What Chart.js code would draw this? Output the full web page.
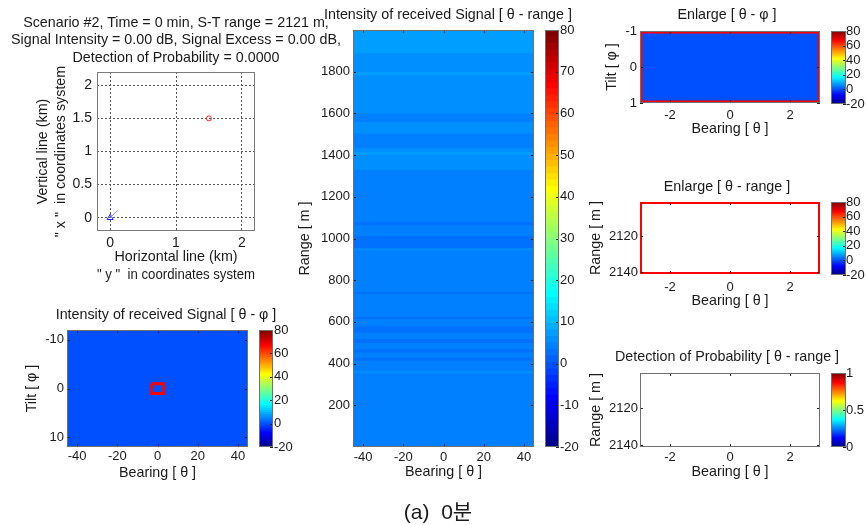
<!DOCTYPE html>
<html>
<head>
<meta charset="utf-8">
<title>Scenario #2 - 0 min</title>
<script src="https://cdn.jsdelivr.net/npm/chart.js@4.4.1/dist/chart.umd.min.js"></script>
<style>
  body { margin: 0; background: #fff; }
  #fig { position: relative; width: 866px; height: 525px; overflow: hidden; background: #fff;
         font-family: "Liberation Sans", Arial, sans-serif; color: #1a1a1a; }
  #fig canvas { position: absolute; left: 0; top: 0; }
  .lbl { position: absolute; font-size: 14.3px; white-space: nowrap; transform: translate(-50%, -50%); text-align: center; }
  #head { line-height: 17.5px; }
  #cap { font-size: 21px; font-family: "Liberation Sans", "Noto Sans CJK KR", sans-serif; }
</style>
</head>
<body>
<div id="fig">
  <canvas id="pos" width="866" height="525"></canvas>
  <canvas id="tp" width="866" height="525"></canvas>
  <canvas id="tpBar" width="866" height="525"></canvas>
  <canvas id="tr" width="866" height="525"></canvas>
  <canvas id="trBar" width="866" height="525"></canvas>
  <canvas id="zTp" width="866" height="525"></canvas>
  <canvas id="zTpBar" width="866" height="525"></canvas>
  <canvas id="zTr" width="866" height="525"></canvas>
  <canvas id="zTrBar" width="866" height="525"></canvas>
  <canvas id="pd" width="866" height="525"></canvas>
  <canvas id="pdBar" width="866" height="525"></canvas>

  <div class="lbl" id="head" style="left:176px;top:39.5px"></div>
  <div class="lbl" style="left:166px;top:314px">Intensity of received Signal [ θ - φ ]</div>
  <div class="lbl" style="left:448px;top:14px">Intensity of received Signal [ θ - range ]</div>
  <div class="lbl" style="left:727px;top:14px">Enlarge [ θ - φ ]</div>
  <div class="lbl" style="left:727px;top:186px">Enlarge [ θ - range ]</div>
  <div class="lbl" style="left:727px;top:356px">Detection of Probability [ θ - range ]</div>
  <div class="lbl" id="cap" style="left:438px;top:510px">(a)&nbsp; 0분</div>
</div>

<script>
'use strict';

// numbers printed in the header
const scenarioNo = 2;
const timeMin = 0;
const stRange = 2121;
const signalIntensity = 0.00;
const signalExcess = 0.00;
const detectProb = 0.0000;

// positions in the coordinate system (km)
const sensorPos = [0, 0];
const sensorHeading = [0.12, 0.12];
const targetPos = [1.5, 1.5];
const kmLim = [-0.2, 2.2];
const kmTicksX = [0, 1, 2];
const kmTicksY = [0, 0.5, 1, 1.5, 2];

// theta - phi plane
const bearingLim = [-45, 45];
const bearingTicks = [-40, -20, 0, 20, 40];
const tiltLim = [-12, 12];
const tiltTicks = [-10, 0, 10];
const tiltEdges = [-12, 12];
const tiltLevels = [0];

// theta - range plane: top of each range band (m) and its level (dB)
const rangeLim = [0, 2000];
const rangeTicks = [200, 400, 600, 800, 1000, 1200, 1400, 1600, 1800];
const rangeTops = [2000, 1890, 1800, 1785, 1600, 1560, 1505, 1435, 1415, 1405,
                   1330, 1080, 1065, 1015, 955, 945, 745, 735, 625, 615,
                   580, 550, 520, 500, 470, 455, 430, 415, 365, 355];
const rangeLevels = [7.5, 5.5, 7.0, 5.5, 4.0, 5.5, 4.0, 5.5, 7.0, 5.5,
                     4.0, 2.5, 4.0, 2.5, 5.5, 4.0, 2.5, 4.0, 2.5, 4.0,
                     2.5, 4.0, 2.5, 4.0, 2.5, 4.0, 2.5, 4.0, 5.5, 4.0];

// enlarged window round the target
const zoomBearing = [-3, 3];
const zoomBearingTicks = [-2, 0, 2];
const zoomTilt = [-1, 1];
const zoomTiltTicks = [-1, 0, 1];
const zoomRange = [2101, 2141];
const zoomRangeTicks = [2120, 2140];

// colour scales
const dbLim = [-20, 80];
const dbTicks20 = [-20, 0, 20, 40, 60, 80];
const dbTicks10 = [-20, -10, 0, 10, 20, 30, 40, 50, 60, 70, 80];
const probLim = [0, 1];
const probTicks = [0, 0.5, 1];

document.getElementById('head').innerHTML =
  `Scenario #${scenarioNo}, Time = ${timeMin} min, S-T range = ${stRange} m,<br>` +
  `Signal Intensity = ${signalIntensity.toFixed(2)} dB, Signal Excess = ${signalExcess.toFixed(2)} dB,<br>` +
  `Detection of Probability = ${detectProb.toFixed(4)}`;

// matlab jet(64)
function jet64(i) {
  const u = k => k <= 16 ? k / 16 : (k <= 31 ? 1 : (48 - k) / 16);
  const comp = off => { const k = i - off; return (k >= 1 && k <= 47) ? u(k) : 0; };
  const r = comp(24), g = comp(8), b = comp(-8);
  return `rgb(${Math.round(r * 255)},${Math.round(g * 255)},${Math.round(b * 255)})`;
}
function jetColor(v, lim) {
  let i = Math.floor((v - lim[0]) / (lim[1] - lim[0]) * 64) + 1;
  return jet64(Math.min(64, Math.max(1, i)));
}

// box round the axes + small inside ticks, matlab style
const framePlugin = {
  id: 'frame',
  defaults: { color: '#707070', ticks: '' },
  afterDatasetsDraw(chart, args, opts) {
    const a = chart.chartArea, ctx = chart.ctx;
    const L = Math.round(a.left), R = Math.round(a.right), T = Math.round(a.top), B = Math.round(a.bottom);
    ctx.save();
    ctx.lineWidth = 1;
    if (opts.ticks) {
      ctx.strokeStyle = '#222';
      ctx.beginPath();
      const xs = chart.scales.x, ys = chart.scales.y;
      if (opts.ticks.includes('x') && xs) xs.ticks.forEach(t => {
        const p = Math.round(xs.getPixelForValue(t.value)) + 0.5;
        ctx.moveTo(p, B); ctx.lineTo(p, B - 3);
        ctx.moveTo(p, T); ctx.lineTo(p, T + 3);
      });
      if (opts.ticks.includes('y') && ys) ys.ticks.forEach(t => {
        const p = Math.round(ys.getPixelForValue(t.value)) + 0.5;
        if (!opts.ticks.includes('r')) { ctx.moveTo(L, p); ctx.lineTo(L + 3, p); }
        ctx.moveTo(R, p); ctx.lineTo(R - 3, p);
      });
      ctx.stroke();
    }
    ctx.strokeStyle = opts.color;
    ctx.strokeRect(L + 0.5, T + 0.5, R - L - 1, B - T - 1);
    ctx.restore();
  }
};

Chart.register(framePlugin);
Chart.defaults.font.family = '"Liberation Sans", Arial, sans-serif';
Chart.defaults.font.size = 13;
Chart.defaults.color = '#1a1a1a';
Chart.defaults.animation = false;
Chart.defaults.responsive = false;
Chart.defaults.devicePixelRatio = 1;
Chart.defaults.plugins.legend.display = false;
Chart.defaults.plugins.tooltip.enabled = false;

const W = 866, H = 525;
const titleFont = { size: 14.3, lineHeight: 1.1 };

function axis(pos, lim, ticks, title, pad, reverse, fit) {
  return {
    type: 'linear', position: pos, min: lim[0], max: lim[1], reverse: !!reverse, offset: false,
    grid: { display: false, drawTicks: false, tickLength: 0 }, border: { display: false },
    ticks: { padding: pad, autoSkip: false, maxRotation: 0, callback: v => v },
    title: { display: !!title, text: title, padding: 0, font: titleFont },
    afterBuildTicks: s => { s.ticks = ticks.map(v => ({ value: v })); },
    afterFit: fit
  };
}

function rectPts(xr, yr) {
  return [
    { x: xr[0], y: yr[0] }, { x: xr[1], y: yr[0] }, { x: xr[1], y: yr[1] },
    { x: xr[0], y: yr[1] }, { x: xr[0], y: yr[0] }
  ];
}

function heatChart(id, g, o) {
  const datasets = o.bands.map(b => ({
    data: [[b.lo, b.hi + o.overlap]],
    backgroundColor: jetColor(b.v, dbLim),
    xAxisID: 'xc', yAxisID: 'y', clip: 0, borderWidth: 0
  }));
  if (o.rect) datasets.unshift({
    type: 'line', data: o.rect, xAxisID: 'x', yAxisID: 'y', clip: 0,
    borderColor: '#ff0000', borderWidth: o.rectWidth, pointRadius: 0, fill: false, tension: 0
  });
  return new Chart(document.getElementById(id), {
    type: 'bar',
    data: { labels: [''], datasets },
    options: {
      layout: { padding: { left: g.yl, top: g.t, right: W - g.r, bottom: H - g.xb } },
      datasets: { bar: { categoryPercentage: 1, barPercentage: 1, grouped: false } },
      plugins: { frame: { color: o.frame || '#707070', ticks: 'xy' } },
      scales: {
        xc: { type: 'category', display: false, offset: true },
        x: axis('bottom', o.xLim, o.xTicks, 'Bearing [ θ ]', g.xPad, false, s => { s.height = g.xb - g.b; }),
        y: axis('left', o.yLim, o.yTicks, o.yTitle, g.yPad, o.reverse, s => { s.width = g.l - g.yl; })
      }
    }
  });
}

function colorbar(id, g, lim, ticks) {
  const step = (lim[1] - lim[0]) / 64;
  const datasets = [];
  for (let i = 0; i < 64; i++) {
    datasets.push({
      data: [[lim[0] + i * step - (i ? step / 2 : 0), lim[0] + (i + 1) * step]],
      backgroundColor: jet64(i + 1), clip: 0, borderWidth: 0
    });
  }
  return new Chart(document.getElementById(id), {
    type: 'bar',
    data: { labels: [''], datasets },
    options: {
      layout: { padding: { left: g.l, top: g.t, right: W - g.tr, bottom: H - g.b } },
      datasets: { bar: { categoryPercentage: 1, barPercentage: 1, grouped: false } },
      plugins: { frame: { color: '#707070', ticks: 'yr' } },
      scales: {
        x: { type: 'category', display: false, offset: true },
        y: axis('right', lim, ticks, '', g.pad, false, s => { s.width = g.tr - g.r; })
      }
    }
  });
}

// ---- positions plot ----
new Chart(document.getElementById('pos'), {
  type: 'scatter',
  data: {
    datasets: [
      { data: [{ x: targetPos[0], y: targetPos[1] }], pointStyle: 'circle', pointRadius: 2.5,
        borderColor: '#ff2020', backgroundColor: 'rgba(0,0,0,0)', borderWidth: 1 },
      { data: [{ x: sensorPos[0], y: sensorPos[1] }, { x: sensorHeading[0], y: sensorHeading[1] }],
        showLine: true, borderColor: '#8c8cff', borderWidth: 1, pointRadius: 0 },
      { data: [{ x: sensorPos[0], y: sensorPos[1] }], pointStyle: 'triangle', pointRadius: 3.5,
        borderColor: '#2020ff', backgroundColor: 'rgba(0,0,0,0)', borderWidth: 1 }
    ]
  },
  options: {
    layout: { padding: { left: 34, top: 72, right: W - 255, bottom: H - 284 } },
    plugins: { frame: { color: '#7a7a7a', ticks: '' } },
    scales: {
      x: {
        type: 'linear', min: kmLim[0], max: kmLim[1],
        grid: { color: '#555', drawTicks: false }, border: { display: false, dash: [2, 2] },
        ticks: { padding: 4, font: { size: 14 }, callback: v => v },
        title: { display: true, text: ['Horizontal line (km)', '" y "  in coordinates system'], padding: 0,
                 font: { size: 14.3, lineHeight: 18 / 14.3 } },
        afterBuildTicks: s => { s.ticks = kmTicksX.map(v => ({ value: v })); },
        afterFit: s => { s.height = 284 - 231; }
      },
      y: {
        type: 'linear', min: kmLim[0], max: kmLim[1],
        grid: { color: '#555', drawTicks: false }, border: { display: false, dash: [2, 2] },
        ticks: { padding: 5, font: { size: 14 }, callback: v => v },
        title: { display: true, text: ['Vertical line (km)', '" x "  in coordinates system'], padding: 0,
                 font: { size: 14.3, lineHeight: 18 / 14.3 } },
        afterBuildTicks: s => { s.ticks = kmTicksY.map(v => ({ value: v })); },
        afterFit: s => { s.width = 97 - 34; }
      }
    }
  }
});

// bands for the heat maps
const tiltBands = tiltLevels.map((v, i) => ({ lo: tiltEdges[i], hi: tiltEdges[i + 1], v }));
const rangeBands = rangeLevels.map((v, i) => ({ lo: i + 1 < rangeTops.length ? rangeTops[i + 1] : rangeLim[0], hi: rangeTops[i], v }));

// theta - phi
heatChart('tp', { l: 67, t: 330, r: 248, b: 447, yl: 24, xb: 481, xPad: 2, yPad: 3 }, {
  bands: tiltBands, overlap: 0, xLim: bearingLim, xTicks: bearingTicks,
  yLim: tiltLim, yTicks: tiltTicks, yTitle: 'Tilt [ φ ]', reverse: true,
  rect: rectPts(zoomBearing, zoomTilt), rectWidth: 3
});
colorbar('tpBar', { l: 259, t: 330, r: 273, b: 447, tr: 300, pad: 1 }, dbLim, dbTicks20);

// theta - range
heatChart('tr', { l: 353, t: 30, r: 534, b: 447, yl: 297, xb: 480, xPad: 3, yPad: 3 }, {
  bands: rangeBands, overlap: 3, xLim: bearingLim, xTicks: bearingTicks,
  yLim: rangeLim, yTicks: rangeTicks, yTitle: 'Range [ m ]', reverse: false
});
colorbar('trBar', { l: 545, t: 30, r: 559, b: 447, tr: 590, pad: 1 }, dbLim, dbTicks10);

// enlarged theta - phi
heatChart('zTp', { l: 640, t: 31, r: 820, b: 103, yl: 604, xb: 137, xPad: 5, yPad: 3 }, {
  bands: tiltBands, overlap: 0, xLim: zoomBearing, xTicks: zoomBearingTicks,
  yLim: zoomTilt, yTicks: zoomTiltTicks, yTitle: 'Tilt [ φ ]', reverse: true,
  rect: rectPts(zoomBearing, zoomTilt), rectWidth: 5
});
colorbar('zTpBar', { l: 831, t: 31, r: 846, b: 104, tr: 866, pad: 0 }, dbLim, dbTicks20);

// enlarged theta - range
heatChart('zTr', { l: 640, t: 202, r: 820, b: 274, yl: 588, xb: 309, xPad: 6, yPad: 2 }, {
  bands: rangeBands, overlap: 3, xLim: zoomBearing, xTicks: zoomBearingTicks,
  yLim: zoomRange, yTicks: zoomRangeTicks, yTitle: 'Range [ m ]', reverse: true,
  rect: rectPts(zoomBearing, zoomRange), rectWidth: 4, frame: '#ff0000'
});
colorbar('zTrBar', { l: 831, t: 202, r: 846, b: 275, tr: 866, pad: 0 }, dbLim, dbTicks20);

// detection probability (nothing above threshold)
heatChart('pd', { l: 640, t: 373, r: 820, b: 447, yl: 588, xb: 480, xPad: 3, yPad: 2 }, {
  bands: [], overlap: 0, xLim: zoomBearing, xTicks: zoomBearingTicks,
  yLim: zoomRange, yTicks: zoomRangeTicks, yTitle: 'Range [ m ]', reverse: true
});
colorbar('pdBar', { l: 831, t: 373, r: 846, b: 447, tr: 866, pad: 0 }, probLim, probTicks);
</script>
</body>
</html>
